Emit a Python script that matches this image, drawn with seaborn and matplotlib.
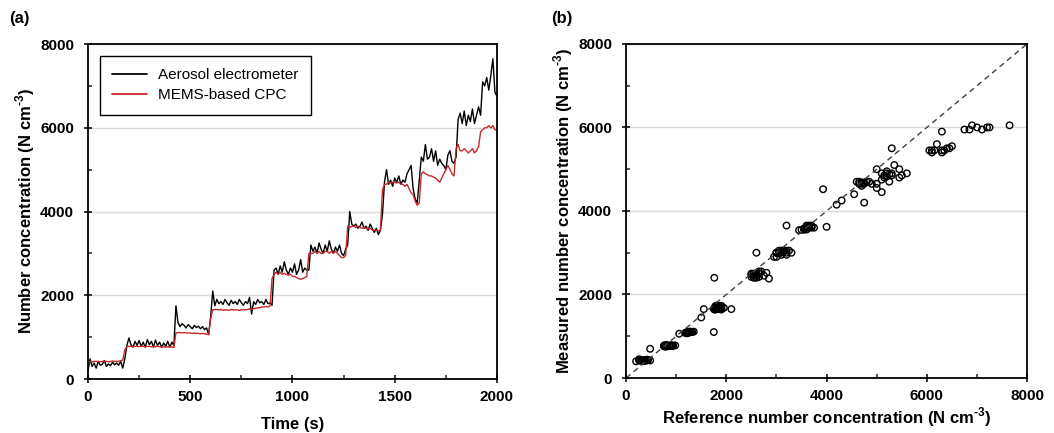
import numpy as np
import pandas as pd
import seaborn as sns
import matplotlib.pyplot as plt
from matplotlib.ticker import MultipleLocator

# sampling times (s), one reading every 10 s
time_s = list(range(0, 2001, 10))

# Aerosol electrometer readings (N cm-3)
electrometer = [
    # 0-170 s
    200, 480, 300, 380, 260, 420, 330, 350, 440, 300, 360, 320, 400, 340, 380, 330, 420, 260,
    # 180-190 s
    480, 800,
    # 200-420 s
    980, 820, 760, 900, 800, 920, 780, 880, 760, 940, 820, 900, 760, 930, 800, 880, 760, 860,
    780, 900, 760, 880, 800,
    # 430 s
    1750,
    # 440-590 s
    1350, 1250, 1320, 1280, 1220, 1300, 1250, 1200, 1280, 1230, 1260, 1200, 1250, 1180, 1220, 1060,
    # 600-610 s
    1500, 2100,
    # 620-890 s
    1750, 1900, 1800, 1850, 1780, 1900, 1820, 1760, 1880, 1800, 1850, 1780, 1900, 1820, 1760,
    1850, 1800, 1950, 1550, 1850, 1780, 1900, 1820, 1850, 1780, 1900, 1800, 1820,
    # 900 s
    1760,
    # 910-1070 s
    2600, 2650, 2500, 2700, 2550, 2800, 2600, 2500, 2650, 2550, 2750, 2500, 2600, 2850, 2550, 2650, 2600,
    # 1080 s
    2600,
    # 1090-1260 s
    3200, 3050, 3150, 3000, 3250, 3100, 3000, 3200, 3050, 3300, 3100, 3000, 3150, 3050, 3200,
    3000, 2950, 3100,
    # 1270-1280 s
    3200, 4000,
    # 1290-1430 s
    3700, 3650, 3700, 3600, 3650, 3750, 3600, 3650, 3550, 3700, 3600, 3500, 3600, 3450, 3550,
    # 1440-1450 s
    3930, 4700,
    # 1460-1610 s
    5000, 4650, 4750, 4600, 4800, 4700, 4850, 4650, 4750, 4700, 4900, 5000, 5100, 4550, 4300, 4200,
    # 1620-1790 s
    4750, 5300, 5200, 5600, 5250, 5300, 5500, 5200, 5450, 5100, 5250, 5150, 5100, 5000, 5350,
    5450, 5200, 5150,
    # 1800 s
    5300,
    # 1810-1910 s
    6200, 6350, 6100, 6400, 6050, 6300, 6150, 6450, 6100, 6300, 6500,
    # 1920 s
    6300,
    # 1930-2000 s
    7100, 7000, 7200, 6900, 7250, 7650, 6850, 6750,
]

# MEMS-based CPC readings (N cm-3), same times
mems_cpc = [
    400, 420, 410, 420, 420, 420, 410, 420, 430, 420, 410, 420, 430, 420, 420, 420, 440, 450,
    700, 770,
    780, 780, 770, 780, 780, 770, 780, 780, 770, 780, 780, 770, 780, 770, 780, 770, 760, 770,
    760, 770, 760, 770, 750,
    1100,
    1110, 1110, 1100, 1110, 1100, 1100, 1100, 1090, 1100, 1090, 1090, 1080, 1090, 1080, 1070, 1060,
    1450, 1650,
    1660, 1660, 1650, 1660, 1640, 1650, 1650, 1640, 1660, 1650, 1650, 1650, 1640, 1650, 1660,
    1650, 1660, 1680, 1650, 1680, 1690, 1700, 1700, 1720, 1720, 1730, 1720, 1740,
    2400,
    2500, 2550, 2500, 2550, 2500, 2520, 2500, 2480, 2500, 2450, 2450, 2420, 2400, 2380, 2400, 2420, 2450,
    3000,
    3000, 3000, 3050, 3000, 3050, 3000, 3000, 3050, 3050, 3000, 3050, 3000, 3050, 3000, 2950,
    2900, 2900, 2950,
    3650, 3620,
    3650, 3650, 3620, 3650, 3620, 3600, 3620, 3600, 3580, 3600, 3560, 3550, 3560, 3540, 3550,
    4520, 4650,
    4650, 4700, 4680, 4700, 4700, 4680, 4700, 4650, 4650, 4600, 4650, 4550, 4450, 4400, 4250, 4150,
    4200, 4900, 4950, 4900, 4880, 4850, 4850, 4820, 4800, 4750, 4700, 4800, 4900, 5000, 5100,
    5000, 4900, 4850,
    5500,
    5600, 5450, 5450, 5500, 5450, 5400, 5450, 5500, 5400, 5450, 5550,
    5900,
    5950, 6000, 6000, 6050, 6000, 6050, 5950, 5950,
]

assert len(time_s) == len(electrometer) == len(mems_cpc)

series_names = ['Aerosol electrometer', 'MEMS-based CPC']
series_colors = ['black', '#c8282d']

wide = pd.DataFrame({'Time': time_s, series_names[0]: electrometer, series_names[1]: mems_cpc})
long = wide.melt(id_vars='Time', var_name='Instrument', value_name='Conc')

sns.set_theme(style='ticks')
plt.rcParams['font.family'] = ['Liberation Sans', 'DejaVu Sans']
plt.rcParams['text.color'] = 'black'
plt.rcParams['axes.labelcolor'] = 'black'
plt.rcParams['mathtext.fontset'] = 'custom'
plt.rcParams['mathtext.rm'] = 'Liberation Sans:bold'
plt.rcParams['mathtext.bf'] = 'Liberation Sans:bold'

fig = plt.figure(figsize=(10.54, 4.33), dpi=100)
ax1 = fig.add_axes([0.0835, 0.1247, 0.388, 0.7736])
ax2 = fig.add_axes([0.594, 0.127, 0.3805, 0.7716])

unit = r'(N cm$^{\text{-3}}$)'


def style_axes(ax, xmajor, xminor):
    ax.set_ylim(0, 8000)
    ax.yaxis.set_major_locator(MultipleLocator(2000))
    ax.yaxis.set_minor_locator(MultipleLocator(1000))
    ax.xaxis.set_major_locator(MultipleLocator(xmajor))
    ax.xaxis.set_minor_locator(MultipleLocator(xminor))
    ax.tick_params(which='major', direction='inout', length=6, width=1.1,
                   labelsize=11, colors='black')
    ax.tick_params(axis='x', which='major', pad=5)
    ax.tick_params(axis='y', which='major', pad=7)
    ax.tick_params(which='minor', direction='in', length=3, width=1.1)
    for lab in ax.get_xticklabels() + ax.get_yticklabels():
        lab.set_fontweight('bold')
    ax.grid(axis='y', which='major', color='#d9d9d9', linewidth=1.0)
    ax.set_axisbelow(True)
    for sp in ax.spines.values():
        sp.set_visible(True)
        sp.set_color('black')
        sp.set_linewidth(1.3)


# (a) time series
sns.lineplot(data=long, x='Time', y='Conc', hue='Instrument', palette=series_colors,
             linewidth=1.0, ax=ax1)
ax1.set_xlim(0, 2000)
style_axes(ax1, 500, 250)
ax1.set_xlabel('Time (s)', fontsize=12, fontweight='bold', labelpad=9)
ax1.set_ylabel('Number concentration ' + unit, fontsize=12, fontweight='bold', labelpad=2)
leg = ax1.legend(loc='upper left', bbox_to_anchor=(0.029, 0.964), borderaxespad=0,
                 frameon=True, fancybox=False, framealpha=1, edgecolor='black',
                 fontsize=11, handlelength=2.3, handletextpad=0.7, borderpad=0.8,
                 labelspacing=0.4)
leg.get_frame().set_linewidth(1.0)
for line in leg.get_lines():
    line.set_linewidth(1.3)

# (b) measured vs reference
sns.scatterplot(x=electrometer, y=mems_cpc, ax=ax2, marker='o', s=22,
                facecolor='none', edgecolor='black', linewidth=1.0)
ax2.axline((0, 0), slope=1, color='#404040', linestyle=(0, (4, 3)), linewidth=1.0)
ax2.set_xlim(0, 8000)
style_axes(ax2, 2000, 1000)
ax2.set_xlabel('Reference number concentration ' + unit, fontsize=12, fontweight='bold', labelpad=2)
ax2.set_ylabel('Measured number concentration ' + unit, fontsize=12, fontweight='bold', labelpad=2)

fig.text(0.009, 0.958, '(a)', fontsize=12, fontweight='bold', va='center')
fig.text(0.523, 0.958, '(b)', fontsize=12, fontweight='bold', va='center')

fig.savefig('out.png', dpi=100)
